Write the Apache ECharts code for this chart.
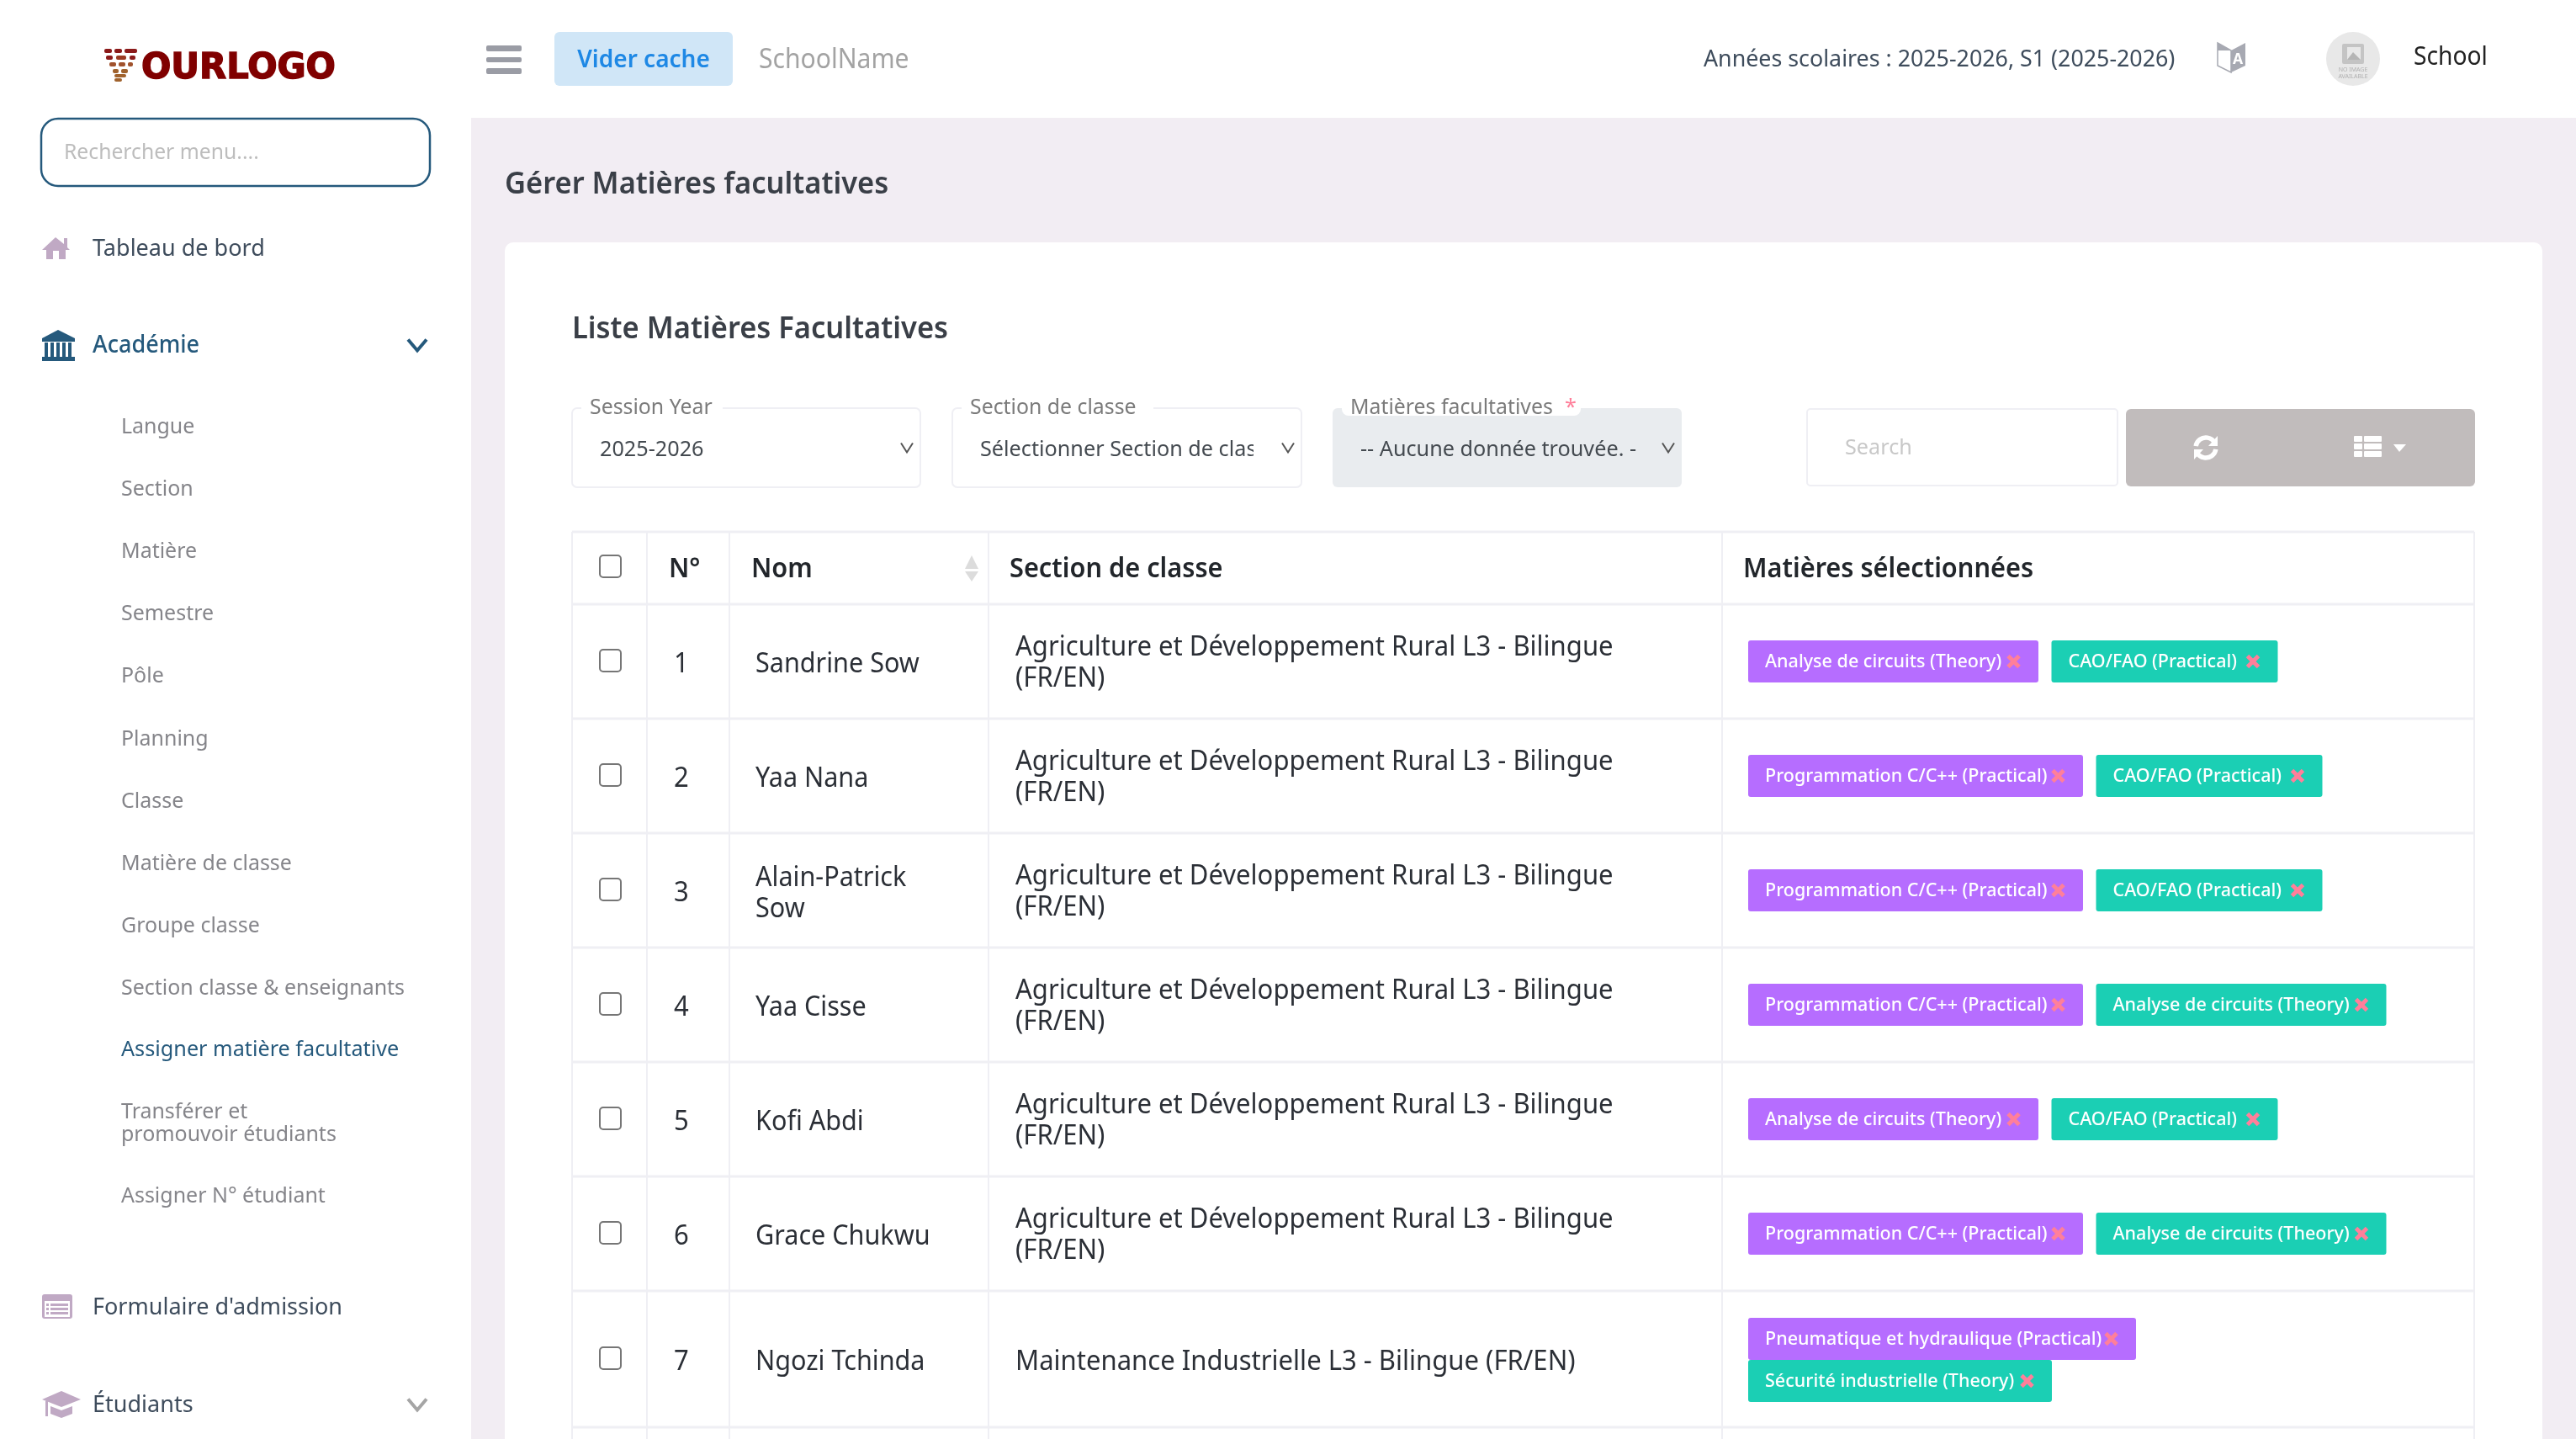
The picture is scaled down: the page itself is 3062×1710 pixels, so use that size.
<!DOCTYPE html>
<html>
<head>
<meta charset="utf-8">
<title>Matières facultatives</title>
<script src="https://cdn.jsdelivr.net/npm/echarts@6/dist/echarts.min.js"></script>
<style>
html, body { margin: 0; padding: 0; background: #fff; }
#main { width: 3062px; height: 1710px; }
</style>
</head>
<body>
<div id="main"></div>
<script>
// page content
let menuTop = ['Tableau de bord', 'Académie', "Formulaire d'admission", 'Étudiants'];
let subMenu = ['Langue', 'Section', 'Matière', 'Semestre', 'Pôle', 'Planning', 'Classe',
    'Matière de classe', 'Groupe classe', 'Section classe & enseignants', 'Assigner matière facultative',
    'Transférer et\npromouvoir étudiants', 'Assigner N° étudiant'];
let tableHead = ['N°', 'Nom', 'Section de classe', 'Matières sélectionnées'];
let rowNumbers = ['1', '2', '3', '4', '5', '6', '7'];
let rowNames = ['Sandrine Sow', 'Yaa Nana', 'Alain-Patrick\nSow', 'Yaa Cisse', 'Kofi Abdi', 'Grace Chukwu', 'Ngozi Tchinda'];
let agri = 'Agriculture et Développement Rural L3 - Bilingue\n(FR/EN)';
let rowSections = [agri, agri, agri, agri, agri, agri, 'Maintenance Industrielle L3 - Bilingue (FR/EN)'];
let circuits = 'Analyse de circuits (Theory)';
let cao = 'CAO/FAO (Practical)';
let prog = 'Programmation C/C++ (Practical)';
let pneu = 'Pneumatique et hydraulique (Practical)';
let secu = 'Sécurité industrielle (Theory)';
let firstTags = [circuits, prog, prog, prog, circuits, prog, pneu];
let secondTags = [cao, cao, cao, circuits, cao, circuits, secu];

// layout
const FONT = '"Noto Sans"';
const TEXT_SQUEEZE = 0.97;
const subY = [506, 580, 654, 728, 802, 877, 951, 1025, 1099, 1173, 1246, 1333, 1420];
const rowLines = [718, 854, 990, 1126, 1262, 1398, 1534, 1696];
const colLines = [769, 867, 1175, 2047];
const tagWidth = {};
tagWidth[circuits] = 345; tagWidth[cao] = 269; tagWidth[prog] = 398; tagWidth[pneu] = 461; tagWidth[secu] = 361;

let els = [];

function rect(x, y, w, h, fill, r, stroke, lw) {
    els.push({type: 'rect', shape: {x: x, y: y, width: w, height: h, r: r || 0},
        style: {fill: fill, stroke: stroke || null, lineWidth: lw || 0}, silent: true});
}
function line(x1, y1, x2, y2, color, lw) {
    els.push({type: 'line', shape: {x1: x1, y1: y1, x2: x2, y2: y2}, style: {stroke: color, lineWidth: lw || 2}, silent: true});
}
function poly(points, color, lw) {
    els.push({type: 'polyline', shape: {points: points}, style: {stroke: color, lineWidth: lw, fill: null}, silent: true});
}
function gon(points, fill, stroke) {
    els.push({type: 'polygon', shape: {points: points}, style: {fill: fill, stroke: stroke || null, lineWidth: stroke ? 1.5 : 0}, silent: true});
}
function text(x, y, str, size, color, weight, align, lh, squeeze) {
    els.push({type: 'text', x: x, y: y + 2, scaleX: squeeze || TEXT_SQUEEZE, silent: true, style: {
        text: str, fill: color, fontFamily: FONT, fontSize: size, fontWeight: weight || 400,
        align: align || 'left', verticalAlign: 'middle', lineHeight: lh || size * 1.2
    }});
}
function chevron(cx, cy, w, h, color, lw) {
    poly([[cx - w / 2, cy - h / 2], [cx, cy + h / 2], [cx + w / 2, cy - h / 2]], color, lw);
}

// backgrounds
rect(0, 0, 3062, 1710, '#ffffff');
rect(560, 140, 2502, 1570, '#f2edf3');
rect(600, 288, 2422, 1440, '#ffffff', 10);

// logo
[[124, 58, 9, 5, '#8b1a1a'], [136, 58, 9, 5, '#8b1a1a'], [148, 58, 15, 5, '#8b1a1a'], [126, 66, 8, 5, '#8b1a1a'],
 [138, 66, 12, 5, '#9a3a22'], [154, 66, 7, 5, '#8b1a1a'], [130, 74, 8, 5, '#a0522d'], [141, 74, 8, 5, '#a0522d'],
 [152, 74, 6, 5, '#a0522d'], [134, 82, 7, 5, '#a0622d'], [144, 82, 8, 5, '#a0622d'], [136, 88, 14, 4, '#a0622d'],
 [136, 93, 9, 4, '#a0622d']].forEach(function(b){ rect(b[0], b[1], b[2], b[3], b[4], 2); });
els.push({type: 'text', x: 168, y: 82, scaleX: 0.99, silent: true, style: {text: 'OURLOGO', fill: '#800000',
    fontFamily: '"DejaVu Sans"', fontWeight: 700, fontSize: 42, verticalAlign: 'middle', stroke: '#800000', lineWidth: 1.5}});

// top bar
rect(578, 54, 42, 7, '#9a9ca5', 2); rect(578, 68, 42, 6, '#9a9ca5', 2); rect(578, 81, 42, 7, '#9a9ca5', 2);
rect(659, 38, 212, 64, '#d0e6f7', 6);
text(765, 70, 'Vider cache', 28, '#1e88e5', 600, 'center', null, 1);
text(902, 70, 'SchoolName', 32, '#a3a3a3', 400, 'left', null, 0.94);
text(2025, 69, 'Années scolaires : 2025-2026, S1 (2025-2026)', 28, '#3e4c5c', 400, 'left', null, 0.957);
// language icon
gon([[2636, 51], [2652, 60], [2652, 86], [2636, 78]], '#ffffff', '#a7a9b2');
gon([[2636, 51], [2652, 60], [2636, 60]], '#a7a9b2');
gon([[2652, 60], [2669, 51], [2669, 78], [2652, 86]], '#a7a9b2');
text(2660, 69, 'A', 18, '#ffffff', 700, 'center');
els.push({type: 'circle', shape: {cx: 2797, cy: 70, r: 32}, style: {fill: '#e8e8e8'}, silent: true});
rect(2784, 52, 26, 24, '#c4c4c4', 2); rect(2790, 56, 16, 15, '#e8e8e8'); gon([[2790, 71], [2797, 62], [2806, 71]], '#b5b5b5');
els.push({type: 'text', x: 2797, y: 87, silent: true, style: {text: 'NO IMAGE\nAVAILABLE', fill: '#b0b0b0',
    fontFamily: FONT, fontSize: 7, lineHeight: 8, align: 'center', verticalAlign: 'middle'}});
text(2869, 66, 'School', 30, '#222222', 400, 'left', null, 0.94);

// sidebar
rect(49, 141, 462, 80, '#ffffff', 20, '#25597c', 2.5);
text(76, 180, 'Rechercher menu....', 26, '#bdbdbd', 400, 'left', null, 0.95);
const PINK = '#c0a9c4';
const NAVY = '#25597c';
// house
gon([[66, 282], [76, 290], [76, 283], [80, 283], [80, 294], [83, 297], [78, 297], [78, 308], [70, 308], [70, 298], [63, 298], [63, 308], [55, 308], [55, 297], [50, 297]], PINK);
// bank
gon([[69, 392], [89, 402], [89, 406], [50, 406], [50, 402]], NAVY);
[53, 60, 67, 74, 81].forEach(function(x){ rect(x, 407, 4, 17, NAVY); });
rect(50, 424, 39, 5, NAVY);
// form
rect(50, 1538, 36, 29, PINK, 3); rect(53, 1546, 30, 19, '#ffffff');
[1549, 1554, 1559].forEach(function(y){ rect(55, y, 3, 3, PINK); rect(60, y, 21, 3, PINK); });
// cap
gon([[73, 1653], [96, 1663], [73, 1672], [50, 1663]], PINK);
gon([[60, 1671], [73, 1676], [86, 1671], [86, 1680], [73, 1685], [60, 1680]], PINK);
rect(54, 1665, 3, 18, PINK);

const menuY = [294, 409, 1552, 1668];
menuTop.forEach(function(label, i){
    text(110, menuY[i], label, 28, i == 1 ? NAVY : '#3e4c5c', i == 1 ? 500 : 400, 'left', null, 0.965);
});
chevron(496, 410, 22, 13, NAVY, 4);
chevron(496, 1669, 22, 13, '#a5a5a5', 4);
subMenu.forEach(function(label, i){
    text(144, subY[i], label, 26, i == 10 ? NAVY : '#85858a', 400, 'left', 27, i == 10 ? 0.97 : 0.96);
});

// titles
text(600, 218, 'Gérer Matières facultatives', 36, '#3a3f47', 600, 'left', null, 0.958);
text(680, 390, 'Liste Matières Facultatives', 36, '#3a3f47', 600, 'left', null, 0.958);

// filters
function selectBox(x, w, label, labelW, value, disabled) {
    rect(x, 485, w, 94, disabled ? '#e9ecef' : '#ffffff', 6, disabled ? null : '#efeff4', disabled ? 0 : 2);
    rect(x + 11, 470, labelW, disabled ? 24 : 20, '#ffffff', disabled ? 8 : 0);
    text(x + 21, 483, label, 26, '#7b7b7b', 400, 'left', null, 0.955);
    text(x + 33, 533, value, 26, '#444a50');
}
selectBox(680, 414, 'Session Year', 168, '2025-2026');
selectBox(1132, 415, 'Section de classe', 228, 'Sélectionner Section de classe');
rect(1490, 500, 40, 60, '#ffffff');
selectBox(1584, 415, 'Matières facultatives', 284, '-- Aucune donnée trouvée. -', true);
text(1860, 483, '*', 26, '#ff7f9a');
chevron(1078, 532, 14, 11, '#555555', 2);
chevron(1531, 532, 14, 11, '#555555', 2);
chevron(1983, 532, 14, 11, '#555555', 2);

// search and toolbar
rect(2148, 486, 369, 91, '#ffffff', 4, '#efeff4', 2);
text(2193, 531, 'Search', 26, '#c8c8c8');
rect(2527, 486, 415, 92, '#c1bcbc', 6);
els.push({type: 'arc', shape: {cx: 2622, cy: 532, r: 12, startAngle: Math.PI * 1.05, endAngle: Math.PI * 1.85},
    style: {stroke: '#ffffff', lineWidth: 5.5, fill: null}, silent: true});
els.push({type: 'arc', shape: {cx: 2622, cy: 532, r: 12, startAngle: Math.PI * 0.05, endAngle: Math.PI * 0.85},
    style: {stroke: '#ffffff', lineWidth: 5.5, fill: null}, silent: true});
gon([[2636, 518], [2636, 530], [2625, 530]], '#ffffff');
gon([[2608, 546], [2608, 534], [2619, 534]], '#ffffff');
[518, 527, 536].forEach(function(y){ rect(2798, y, 10, 7, '#ffffff', 1); rect(2810, y, 21, 7, '#ffffff', 1); });
gon([[2845, 528], [2860, 528], [2852, 537]], '#ffffff');

// table
const GRID = '#efeff4';
line(680, 632, 2941, 632, GRID, 3);
rowLines.forEach(function(y){ line(680, y, 2941, y, GRID, 3); });
[680].concat(colLines, [2941]).forEach(function(x){ line(x, 632, x, 1710, GRID, 2); });

function checkbox(y) { rect(713, y - 13, 25, 26, '#ffffff', 4, '#767676', 2); }
function tag(x, y, label, fill) {
    let w = tagWidth[label];
    rect(x, y, w, 50, fill, 3);
    text(x + 20, y + 24, label, 22.5, '#ffffff', 500, 'left', null, 0.957);
    let cx = x + w - 29.5, cy = y + 25;
    line(cx - 6.5, cy - 6.5, cx + 6.5, cy + 6.5, '#ff7f9a', 5);
    line(cx + 6.5, cy - 6.5, cx - 6.5, cy + 6.5, '#ff7f9a', 5);
}

checkbox(673);
text(795, 675, tableHead[0], 32, '#22262b', 600, 'left', null, 0.96);
text(893, 675, tableHead[1], 32, '#22262b', 600, 'left', null, 0.96);
text(1200, 675, tableHead[2], 32, '#22262b', 600, 'left', null, 0.96);
text(2072, 675, tableHead[3], 32, '#22262b', 600, 'left', null, 0.96);
gon([[1155, 660], [1163, 676], [1147, 676]], '#dcdcdc');
gon([[1147, 679], [1163, 679], [1155, 691]], '#dcdcdc');

rowNumbers.forEach(function(num, i){
    let cy = (rowLines[i] + rowLines[i + 1]) / 2;
    checkbox(cy - 1);
    text(801, cy + 2, num, 32, '#2b2f36');
    text(898, cy + 2, rowNames[i], 32, '#2b2f36', 400, 'left', 37, 0.955);
    text(1207, i == 6 ? cy + 2 : cy, rowSections[i], 32, '#2b2f36', 400, 'left', 37);
    if (i < 6) {
        let y = rowLines[i] + 43;
        tag(2078, y, firstTags[i], '#b66dff');
        tag(2078 + tagWidth[firstTags[i]] + 15.5, y, secondTags[i], '#1bcfb4');
    } else {
        tag(2078, 1566, firstTags[i], '#b66dff');
        tag(2078, 1616, secondTags[i], '#1bcfb4');
    }
});

let chart = echarts.init(document.getElementById('main'), null, {renderer: 'canvas'});
chart.setOption({animation: false, graphic: {elements: els}});
window.onresize = function() { chart.resize(); };
</script>
</body>
</html>
